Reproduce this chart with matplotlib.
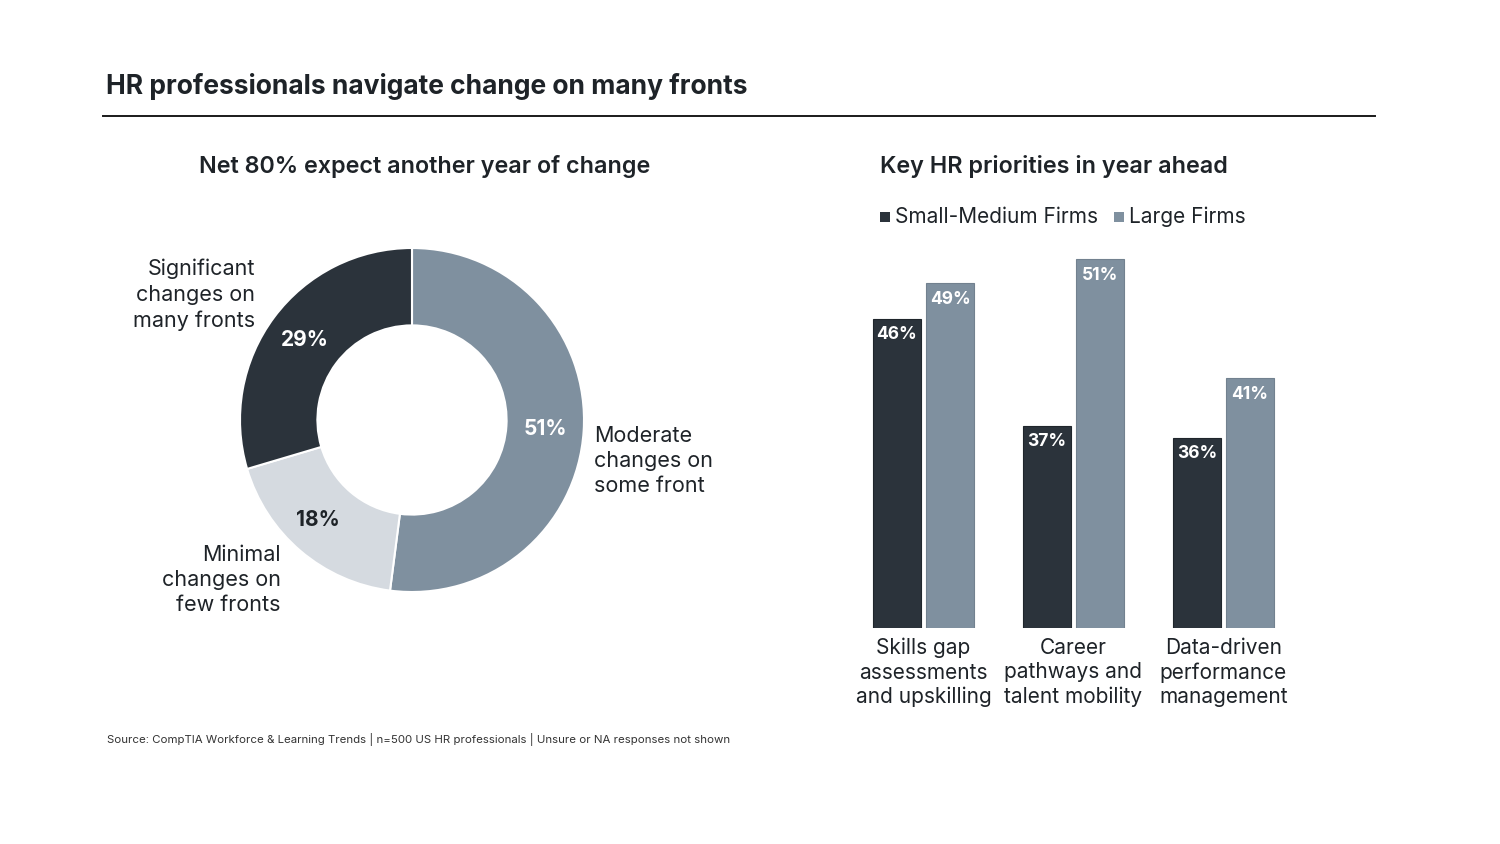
import matplotlib
matplotlib.use("Agg")
import matplotlib.pyplot as plt
from matplotlib.lines import Line2D
import numpy as np

plt.rcParams['font.family'] = ['Inter', 'DejaVu Sans']

W, H = 1500, 844

# donut data
donutLabels = ["Moderate\nchanges on\nsome front", "Minimal\nchanges on\nfew fronts", "Significant\nchanges on\nmany fronts"]
donutValues = [51, 18, 29]

# bar data
categories = ["Skills gap\nassessments\nand upskilling", "Career\npathways and\ntalent mobility", "Data-driven\nperformance\nmanagement"]
smallMedium = [46, 37, 36]
large = [49, 51, 41]
seriesNames = ["Small-Medium Firms", "Large Firms"]

cDark = "#2b333b"
cMid = "#7f909f"
cLight = "#d5dae0"
cText = "#1e2328"

def fx(x): return x / W
def fy(y): return 1 - y / H

fig = plt.figure(figsize=(W / 100, H / 100), dpi=100)

# header
fig.text(fx(106), fy(87), "HR professionals navigate change on many fronts", fontsize=19, fontweight='bold',
         color=cText, ha='left', va='center')
fig.add_artist(Line2D([fx(103), fx(1375)], [fy(116), fy(116)], color='#1a1a1a', lw=1.4))

fig.text(fx(425), fy(166), "Net 80% expect another year of change", fontsize=16.8, fontweight='semibold',
         color=cText, ha='center', va='center')
fig.text(fx(880), fy(166), "Key HR priorities in year ahead", fontsize=16.8, fontweight='semibold',
         color=cText, ha='left', va='center')

# donut
cx, cy, R = 412, 420, 172
axD = fig.add_axes([fx(cx - R), fy(cy + R), 2 * R / W, 2 * R / H])
wedges, _ = axD.pie(donutValues, colors=[cMid, cLight, cDark], startangle=90, counterclock=False,
                    radius=1, wedgeprops=dict(width=0.45, edgecolor='white', linewidth=1.5))
axD.set_xlim(-1, 1)
axD.set_ylim(-1, 1)
axD.set_axis_off()

pctColors = ['white', cText, 'white']
pctR = [0.775, 0.8, 0.775]
for w, v, c, r in zip(wedges, donutValues, pctColors, pctR):
    ang = np.deg2rad((w.theta1 + w.theta2) / 2 - (3 if c == cText else 0))
    axD.text(r * np.cos(ang), r * np.sin(ang), f"{v}%", ha='center', va='center',
             fontsize=15, fontweight='bold', color=c)

# outside labels (pixel positions from layout)
def dpos(px, py): return ((px - cx) / R, (cy - py) / R)
labelPos = [(594, 461, 'left'), (281, 580, 'right'), (255, 295, 'right')]
for lab, (px, py, ha) in zip(donutLabels, labelPos):
    x, y = dpos(px, py)
    axD.text(x, y, lab, ha=ha, va='center', fontsize=15.5, color=cText, linespacing=1.34, clip_on=False)

# bars
axB = fig.add_axes([fx(848.5), fy(628), 450 / W, (628 - 211.5) / H])
x = np.arange(len(categories))
bw = 0.32
off = 0.177
b1 = axB.bar(x - off, smallMedium, bw, color=cDark, edgecolor='#1f252b', linewidth=0.8)
b2 = axB.bar(x + off, large, bw, color=cMid, edgecolor='#72818f', linewidth=0.8)
axB.set_xlim(-0.5, 2.5)
axB.set_ylim(20, 55)
axB.set_axis_off()

for bars in (b1, b2):
    for rect in bars:
        h = rect.get_height()
        axB.annotate(f"{h:.0f}%", (rect.get_x() + rect.get_width() / 2, h), xytext=(0, -5.5),
                     textcoords='offset points', ha='center', va='top', fontsize=12.5,
                     fontweight='bold', color='white')

for xi, cat in zip(x, categories):
    axB.annotate(cat, (xi, 20), xytext=(0, -7), textcoords='offset points', ha='center', va='top',
                 fontsize=15, color=cText, linespacing=1.27, annotation_clip=False)

# legend
fig.patches.append(plt.Rectangle((fx(880), fy(222)), 10 / W, 10 / H, transform=fig.transFigure,
                                 facecolor=cDark, figure=fig))
fig.text(fx(895), fy(217), seriesNames[0], fontsize=15, color=cText, ha='left', va='center')
fig.patches.append(plt.Rectangle((fx(1114), fy(222)), 10 / W, 10 / H, transform=fig.transFigure,
                                 facecolor=cMid, figure=fig))
fig.text(fx(1129), fy(217), seriesNames[1], fontsize=15, color=cText, ha='left', va='center')

# source
fig.text(fx(107), fy(740), "Source: CompTIA Workforce & Learning Trends | n=500 US HR professionals | Unsure or NA responses not shown",
         fontsize=8.25, color='#333333', ha='left', va='center')

fig.savefig("out.png", dpi=100, facecolor='white')
